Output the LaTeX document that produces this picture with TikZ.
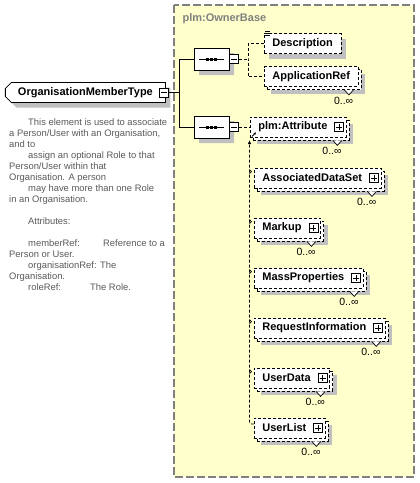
\documentclass[tikz,border=0pt]{standalone}
\usepackage{fontspec}
\setmainfont{Liberation Sans}
\usetikzlibrary{shapes.misc,shadows,positioning,calc,arrows.meta}

\definecolor{basefill}{RGB}{255,255,204}
\definecolor{baseedge}{RGB}{128,128,128}
\definecolor{doctext}{RGB}{90,90,90}
\definecolor{shadowgray}{RGB}{192,192,192}

\begin{document}
\begin{tikzpicture}[x=1pt, y=-1pt,
    dashline/.style={line width=0.8pt, dash pattern=on 3pt off 2pt},
    flat/.style={general shadow={shadow xshift=5pt, shadow yshift=-5pt, fill=shadowgray}},
    multi/.style={general shadow={shadow xshift=7pt, shadow yshift=-7pt, fill=shadowgray},
        general shadow={shadow xshift=3pt, shadow yshift=-3pt, fill=white, draw}},
    elem/.style={rectangle, draw, dashline, fill=white, font=\bfseries\fontsize{11}{13}\selectfont,
        minimum height=20pt, inner xsep=8pt, inner ysep=0pt, anchor=west},
    kids/.style={execute at end node={\hspace*{11pt}}},
    rootbox/.style={chamfered rectangle, chamfered rectangle corners={north west,south west},
        chamfered rectangle xsep=3pt, chamfered rectangle ysep=3pt, draw, fill=white, line width=0.8pt,
        font=\bfseries\fontsize{11}{13}\selectfont, minimum width=160pt, minimum height=20pt,
        inner sep=0pt, anchor=west, flat},
    seqbox/.style={chamfered rectangle, chamfered rectangle xsep=6pt, chamfered rectangle ysep=5pt,
        draw, fill=white, line width=0.8pt, minimum width=35pt, minimum height=22pt, inner sep=0pt, flat},
    minusbox/.style={rectangle, draw, fill=white, minimum size=9pt, inner sep=0pt, line width=0.7pt,
        path picture={\draw[line width=0.7pt] ([xshift=1.5pt]path picture bounding box.west)
            -- ([xshift=-1.5pt]path picture bounding box.east);}},
    plusbox/.style={rectangle, draw, fill=white, minimum size=9pt, inner sep=0pt, line width=0.7pt,
        path picture={\draw[line width=0.7pt] ([xshift=1.5pt]path picture bounding box.west)
            -- ([xshift=-1.5pt]path picture bounding box.east);
            \draw[line width=0.7pt] ([yshift=-1.5pt]path picture bounding box.north)
            -- ([yshift=1.5pt]path picture bounding box.south);}},
    occ/.style={font=\fontsize{10.5}{12}\selectfont, inner sep=1pt},
    doc/.style={align=left, text=doctext, font=\fontsize{9.4}{11}\selectfont, inner sep=0pt}
]
    \fill[white] (0,0) rectangle (420,483);
    \useasboundingbox (0,0) rectangle (420,483);

    % base type frame
    \draw[fill=basefill, draw=baseedge, line width=1.5pt, dash pattern=on 8pt off 3pt]
        (174,5) rectangle (414,477);
    \node[anchor=west, text=baseedge, font=\bfseries\fontsize{11}{13}\selectfont] (basename)
        at (179,19) {plm:OwnerBase};

    % type and its sequences
    \node[rootbox] (omt) at (5,92.5) {OrganisationMemberType};
    \node[minusbox] (omtm) at ([xshift=-1.5pt]omt.east) {};
    \node[seqbox] (seq1) at (211.5,59) {};
    \node[seqbox] (seq2) at (211.5,127) {};
    \node[minusbox, right=0pt of seq1] (seq1m) {};
    \node[minusbox, right=0pt of seq2] (seq2m) {};
    \foreach \s in {seq1,seq2} {
        \draw[line width=0.8pt] ($(\s.center)+(-12.5,0)$) -- ($(\s.center)+(12.5,0)$);
        \foreach \dx in {-4,0,4}
            \fill ($(\s.center)+(\dx-1.5,-1.5)$) rectangle +(3,3);
    }

    \node[doc, anchor=north west] (note) at (9,118.5) {%
        \hspace*{19pt}This element is used to associate\\
        a Person/User with an Organisation,\\
        and to\\
        \hspace*{19pt}assign an optional Role to that\\
        Person/User within that\\
        Organisation. A person\\
        \hspace*{19pt}may have more than one Role\\
        in an Organisation.\\[11pt]
        \hspace*{19pt}Attributes:\\[11pt]
        \hspace*{19pt}\makebox[75pt][l]{memberRef:}Reference to a\\
        Person or User.\\
        \hspace*{19pt}\makebox[72pt][l]{organisationRef:}The\\
        Organisation.\\
        \hspace*{19pt}\makebox[62pt][l]{roleRef:}The Role.};

    % elements
    \node[elem, flat] (desc) at (264,43.5) {Description};
    \node[elem, multi] (appref) at (264,76.5) {ApplicationRef};
    \node[elem, multi, kids] (attr) at (250,127) {plm:Attribute};
    \node[elem, multi, kids] (ads) at (254,178) {AssociatedDataSet};
    \node[elem, multi, kids] (markup) at (254,228) {Markup};
    \node[elem, multi, kids] (massprop) at (254,278) {MassProperties};
    \node[elem, multi, kids] (reqinfo) at (254,328) {RequestInformation};
    \node[elem, multi, kids] (udata) at (254,378) {UserData};
    \node[elem, multi, kids] (ulist) at (254,428) {UserList};

    \foreach \m in {attr,ads,markup,massprop,reqinfo,udata,ulist}
        \node[plusbox] (\m-plus) at ([xshift=-7.5pt]\m.east) {};
    \foreach \m in {appref,attr,ads,markup,massprop,reqinfo,udata,ulist} {
        \filldraw[fill=white, line width=0.7pt] ($(\m.south east)+(-14,3)$) -- ++(4.5,5) -- ++(4.5,-5);
        \node[occ, below left=9pt and 4pt of \m.south east] (\m-occ) {0..∞};
    }

    % documentation and reference marks
    \foreach \dy in {0,2,4}
        \draw[line width=0.6pt] (265,31+\dy) -- (270,31+\dy);
    \draw[line width=0.9pt, -{Stealth[length=2.5pt,width=2.5pt]}]
        ($(attr.south west)+(2,-1)$) -- ++(4,-4);

    % connectors
    \coordinate (omtj) at (179.5,92.5);
    \draw[line width=0.8pt] (omtm.east) -- (omtj);
    \draw[line width=0.8pt] (seq1.west) -| (omtj) |- (seq2.west);
    \coordinate (seq1j) at (248,59);
    \draw[dashline] (seq1m.east) -- (seq1j);
    \draw[dashline] (desc.west) -| (seq1j) |- (appref.west);
    \draw[dashline] (seq2m.east) -- (attr.west);

    % substitution members
    \coordinate (subtop) at (249.5,140);
    \draw[dashline, rounded corners=2pt, -{Latex[length=4pt,width=3.5pt]}]
        ([yshift=4pt]ulist.west) -| (subtop);
    \foreach \m in {ads,markup,massprop,reqinfo,udata}
        \draw[line width=0.6pt] ($(\m.north west)+(-4.5,2)$) -- ++(2,2) -- ++(-2,2);
\end{tikzpicture}
\end{document}
